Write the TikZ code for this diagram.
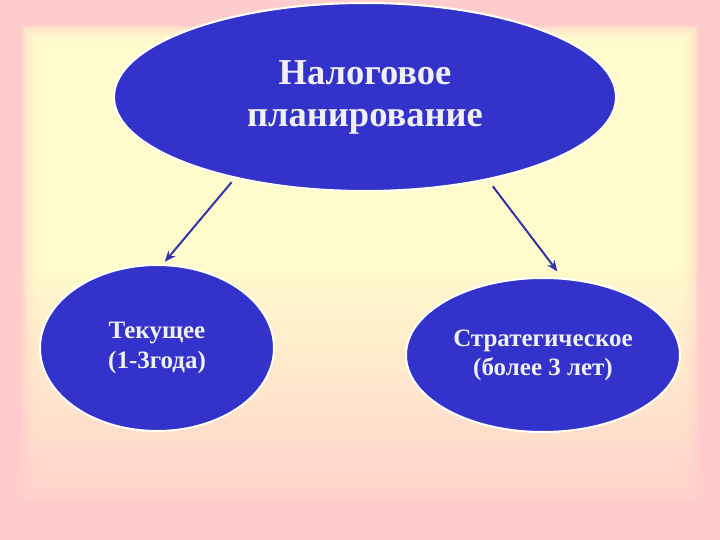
\documentclass[tikz,border=0pt]{standalone}
\usepackage{fontspec}
\setmainfont{Liberation Serif}
\usetikzlibrary{shapes.geometric,arrows.meta}
\definecolor{bgpink}{RGB}{255,204,204}
\definecolor{bgyellow}{RGB}{255,255,204}
\definecolor{ovalblue}{RGB}{51,51,204}
\definecolor{arrowblue}{RGB}{51,51,170}
\definecolor{txtwhite}{RGB}{240,240,250}

\tikzset{
  oval/.style={ellipse, fill=ovalblue, draw=white, line width=2pt, text=txtwhite, align=center, inner sep=0pt},
  link/.style={draw=arrowblue, line width=2pt, -{Stealth[length=11pt,width=9pt]}}
}

\begin{document}
\begin{tikzpicture}[x=1pt,y=1pt,yscale=-1]
\useasboundingbox (0,0) rectangle (720,540);
%background
\fill[bgpink] (0,0) rectangle (720,540);
\foreach \k in {0,...,7}
  \fill[bgyellow, fill opacity=0.3] (22+2.5*\k,26+2.5*\k) rectangle (698-2.5*\k,500-2.5*\k);
\foreach \i in {1,...,24}
  \fill[bgpink, fill opacity=0.036*\i] (0,260+10*\i) rectangle (720,270+10*\i);

% Ellipses
\node[oval, minimum width=502, minimum height=188, font=\bfseries\fontsize{36.5}{42}\selectfont] (plan) at (365,97) {Налоговое\\планирование};
\node[oval, minimum width=234, minimum height=166, font=\bfseries\fontsize{25}{30}\selectfont] (cur) at (157,348) {Текущее\\(1-3года)};
\node[oval, minimum width=274, minimum height=154, font=\bfseries\fontsize{25}{29}\selectfont] (strat) at (543,355) {Стратегическое\\(более 3 лет)};

% Arrows
\draw[link, shorten <=5pt, shorten >=3pt] (plan.212) -- (cur.86);
\draw[link, shorten <=8pt, shorten >=8pt] (plan.326) -- (strat.76);

\end{tikzpicture}
\end{document}
